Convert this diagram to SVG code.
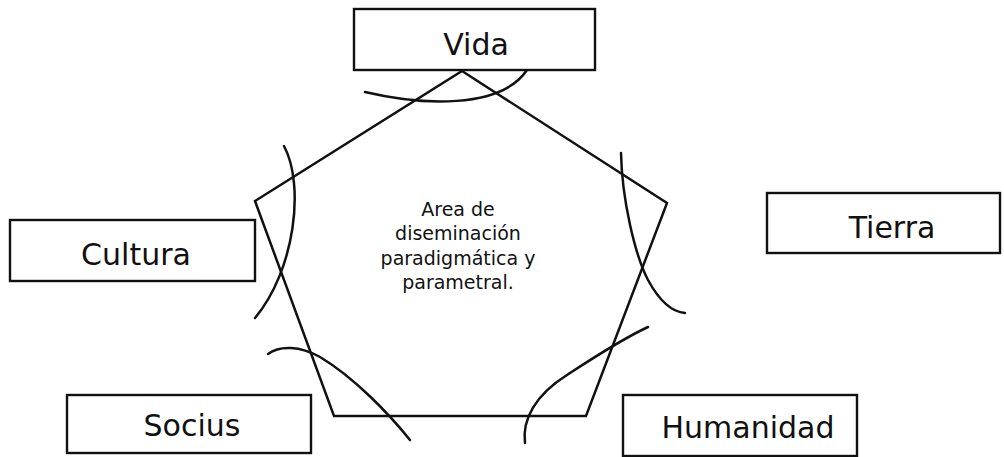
<svg xmlns="http://www.w3.org/2000/svg" width="1004" height="457" viewBox="0 0 1004 457">
<style>
.box{fill:#fff;stroke:#111;stroke-width:2.4}
.lbl{font-family:"DejaVu Sans",Verdana,sans-serif;font-size:30px;fill:#111;text-anchor:middle}
.mid{font-family:"DejaVu Sans",Verdana,sans-serif;font-size:19px;fill:#111;text-anchor:middle}
.ln{fill:none;stroke:#111;stroke-width:2.5;stroke-linecap:round;stroke-linejoin:miter}
</style>
<rect width="1004" height="457" fill="#fff"/>
<g id="connectors">
<polygon class="ln" points="462,71 667,203 586,416 334,416 255,201"/>
<path class="ln" d="M365,92 C420,105 500,110 527,70"/>
<path class="ln" d="M284,146 C305,185 295,270 255,318"/>
<path class="ln" d="M268,354 C280,345 300,346 320,357 C355,378 390,415 410,440"/>
<path class="ln" d="M525,443 C522,420 535,395 567,375 C590,360 620,340 648,327"/>
<path class="ln" d="M621,153 C622,200 635,255 648,280 C660,302 672,312 685,313"/>
</g>
<g id="area">
<text class="mid" x="458" y="216">Area de</text>
<text class="mid" x="458" y="240">diseminación</text>
<text class="mid" x="458" y="265">paradigmática y</text>
<text class="mid" x="458" y="289">parametral.</text>
</g>
<g id="vida">
<rect class="box" x="354" y="9" width="241" height="61"/>
<text class="lbl" x="476" y="55">Vida</text>
</g>
<g id="cultura">
<rect class="box" x="10" y="220" width="245" height="61"/>
<text class="lbl" x="136" y="265">Cultura</text>
</g>
<g id="tierra">
<rect class="box" x="767" y="193" width="233" height="60"/>
<text class="lbl" x="892" y="238">Tierra</text>
</g>
<g id="socius">
<rect class="box" x="67" y="395" width="244" height="58"/>
<text class="lbl" x="192" y="436">Socius</text>
</g>
<g id="humanidad">
<rect class="box" x="623" y="395" width="234" height="61"/>
<text class="lbl" x="748" y="438">Humanidad</text>
</g>
</svg>
